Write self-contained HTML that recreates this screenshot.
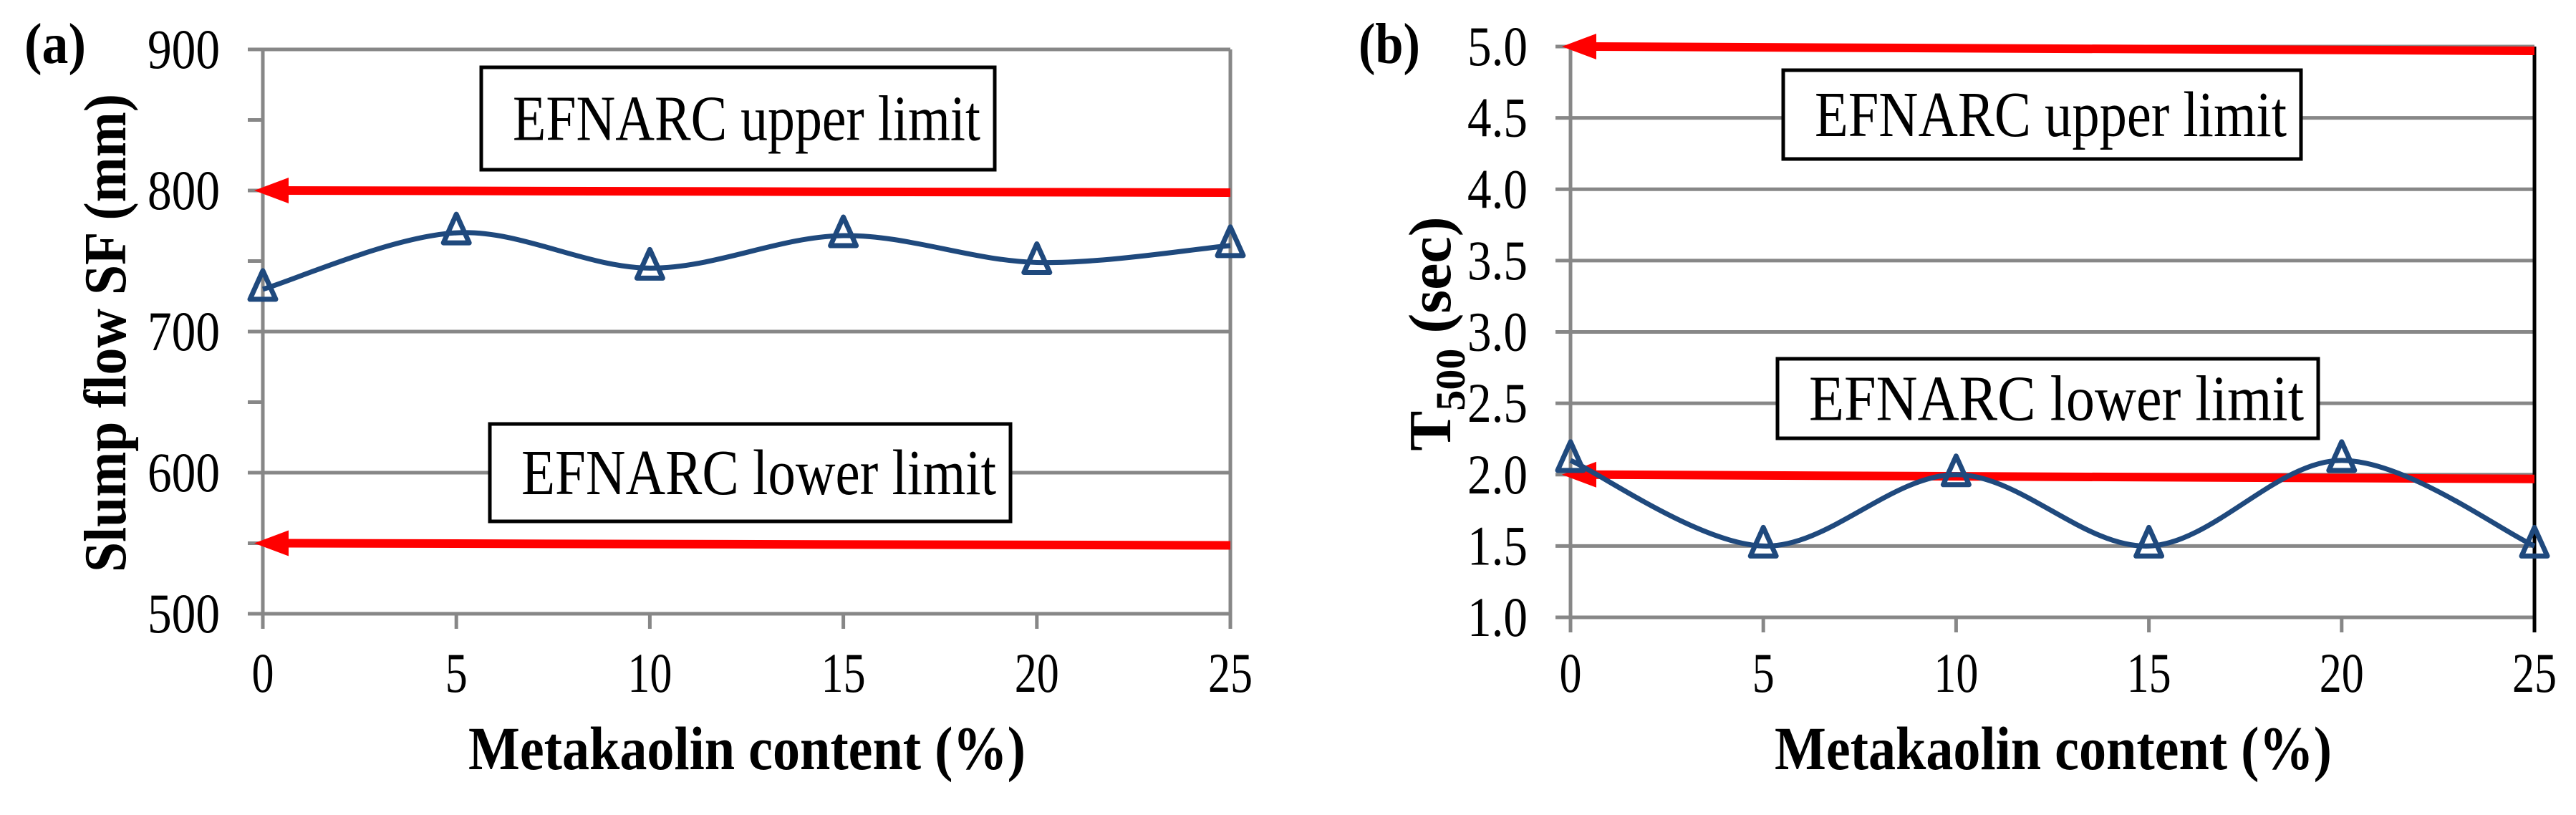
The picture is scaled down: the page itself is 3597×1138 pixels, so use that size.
<!DOCTYPE html>
<html><head><meta charset="utf-8"><style>
html,body{margin:0;padding:0;background:#fff;}
svg{display:block;}
text{font-family:"Liberation Serif","Times New Roman",serif;fill:#000;}
</style></head><body>
<svg id="fig" width="3597" height="1138" viewBox="0 0 3597 1138" xmlns="http://www.w3.org/2000/svg">
<g id="pa"></g>
<g id="pb"></g>
</svg>
<script>
const xCats = [0, 5, 10, 15, 20, 25];
const slumpFlow = [730, 770, 745, 768, 749, 761];
const t500 = [2.1, 1.5, 2.0, 1.5, 2.1, 1.5];
const aTicks = [500, 600, 700, 800, 900];
const aMinor = [550, 650, 750, 850];
const bTicks = [1.0, 1.5, 2.0, 2.5, 3.0, 3.5, 4.0, 4.5, 5.0];
const aLimits = [800, 550];
const bLimits = [5.0, 2.0];

const NS = "http://www.w3.org/2000/svg";
function mk(parent, tag, attrs, txt) {
  const e = document.createElementNS(NS, tag);
  for (const k in attrs) e.setAttribute(k, attrs[k]);
  if (txt !== undefined) e.textContent = txt;
  parent.appendChild(e);
  return e;
}
function smoothPath(pts) {
  let d = "M" + pts[0][0] + "," + pts[0][1];
  for (let i = 0; i < pts.length - 1; i++) {
    const p0 = pts[i - 1] || pts[i], p1 = pts[i], p2 = pts[i + 1], p3 = pts[i + 2] || pts[i + 1];
    const c1 = [p1[0] + (p2[0] - p0[0]) / 6, p1[1] + (p2[1] - p0[1]) / 6];
    const c2 = [p2[0] - (p3[0] - p1[0]) / 6, p2[1] - (p3[1] - p1[1]) / 6];
    d += " C" + c1 + " " + c2 + " " + p2;
  }
  return d;
}

function panel(g, cfg) {
  const X = v => cfg.x0 + (v - xCats[0]) / (xCats[xCats.length - 1] - xCats[0]) * (cfg.x1 - cfg.x0);
  const Y = v => cfg.yb + (v - cfg.ymin) / (cfg.ymax - cfg.ymin) * (cfg.yt - cfg.yb);
  const grid = "#878787";
  cfg.ticks.forEach(t => {
    const l = mk(g, "line", {x1: cfg.x0 - 21, x2: cfg.x1, y1: Y(t), y2: Y(t), stroke: grid, "stroke-width": 5});
    
    
    const s = cfg.fmt(t);
    const tx = mk(g, "text", {x: cfg.labelRight, y: Y(t) + 26, "font-size": 78, "text-anchor": "end", textLength: cfg.labelW, lengthAdjust: "spacingAndGlyphs"}, s);
    
    
  });
  (cfg.minor || []).forEach(t => {
    const l = mk(g, "line", {x1: cfg.x0 - 21, x2: cfg.x0, y1: Y(t), y2: Y(t), stroke: grid, "stroke-width": 5});
    
    
  });
  const ya = mk(g, "line", {x1: cfg.x0, x2: cfg.x0, y1: cfg.yt, y2: cfg.yb + 21, stroke: grid, "stroke-width": 5});
  
  
  xCats.forEach(c => {
    const l = mk(g, "line", {x1: X(c), x2: X(c), y1: cfg.yb, y2: cfg.yb + 21, stroke: grid, "stroke-width": 5});
    
    
    const s = String(c);
    const t = mk(g, "text", {x: X(c), y: 966, "font-size": 78, "text-anchor": "middle", textLength: s.length * 31, lengthAdjust: "spacingAndGlyphs"}, s);
    
    
  });
  const ra = mk(g, "line", {x1: cfg.x1, x2: cfg.x1, y1: cfg.yt, y2: cfg.yb + 21, stroke: cfg.rightColor, "stroke-width": 5});
  
  
  cfg.boxes.forEach(b => {
    const r = mk(g, "rect", {x: b[0], y: b[1], width: b[2], height: b[3], fill: "#fff", stroke: "#000", "stroke-width": 5});
    
    
    const t = mk(g, "text", {x: b[0] + b[2] / 2 + 12, y: b[1] + b[3] / 2 + 30, "font-size": 90, "text-anchor": "middle", textLength: b[2] - 64, lengthAdjust: "spacingAndGlyphs"}, b[4]);
    
    
  });
  cfg.limits.forEach((v, i) => {
    const y = Y(v), tip = cfg.x0 - 12;
    const l = mk(g, "line", {x1: tip + 40, x2: cfg.x1, y1: y, y2: y + cfg.slope, stroke: "#ff0000", "stroke-width": 12});
    
    
    const h = mk(g, "polygon", {points: tip + "," + y + " " + (tip + 48) + "," + (y - 18) + " " + (tip + 48) + "," + (y + 18), fill: "#ff0000"});
    
    
  });
  const pts = xCats.map((c, i) => [X(c), Y(cfg.data[i])]);
  const p = mk(g, "path", {d: smoothPath(pts), fill: "none", stroke: "#1f497d", "stroke-width": 7});
  
  
  pts.forEach(q => {
    const m = mk(g, "polygon", {points: q[0] + "," + (q[1] - 26) + " " + (q[0] - 18) + "," + (q[1] + 14) + " " + (q[0] + 18) + "," + (q[1] + 14), fill: "none", stroke: "#1f497d", "stroke-width": 7, "stroke-linejoin": "round"});
    
    
  });
  const xt = mk(g, "text", {x: cfg.xTitleX, y: 1074, "font-size": 86, "font-weight": "bold", "text-anchor": "middle", textLength: 778, lengthAdjust: "spacingAndGlyphs"}, "Metakaolin content (%)");
  
  
  const pl = mk(g, "text", {x: cfg.plX, y: 88, "font-size": 80, "font-weight": "bold", textLength: 86, lengthAdjust: "spacingAndGlyphs"}, cfg.panelLabel);
  
  
}

const pa = document.getElementById("pa");
panel(pa, {x0: 367, x1: 1718, yb: 857, yt: 69, ymin: 500, ymax: 900, ticks: aTicks, minor: aMinor,
  fmt: v => String(v), labelRight: 307, labelW: 101, data: slumpFlow, limits: aLimits, slope: 3, rightColor: "#878787",
  boxes: [[672, 94, 717, 143, "EFNARC upper limit", "upper-limit"], [684, 592, 727, 136, "EFNARC lower limit", "lower-limit"]],
  xTitleX: 1043, plX: 34, panelLabel: "(a)"});
const yta = mk(pa, "text", {x: 0, y: 0, "font-size": 84, "font-weight": "bold", "text-anchor": "middle", transform: "translate(175,465) rotate(-90)", textLength: 668, lengthAdjust: "spacingAndGlyphs"}, "Slump flow SF (mm)");



const pb = document.getElementById("pb");
panel(pb, {x0: 2193, x1: 3539, yb: 862, yt: 65, ymin: 1.0, ymax: 5.0, ticks: bTicks,
  fmt: v => v.toFixed(1), labelRight: 2133, labelW: 84, data: t500, limits: bLimits, slope: 6, rightColor: "#000",
  boxes: [[2490, 98, 723, 124, "EFNARC upper limit", "upper-limit"], [2482, 501, 755, 111, "EFNARC lower limit", "lower-limit"]],
  xTitleX: 2867, plX: 1897, panelLabel: "(b)"});
const ytb = mk(pb, "text", {x: 0, y: 0, "font-size": 84, "font-weight": "bold", "text-anchor": "middle", transform: "translate(2025,466) rotate(-90)"});


mk(ytb, "tspan", {}, "T");
mk(ytb, "tspan", {"font-size": 58, dy: 20}, "500");
mk(ytb, "tspan", {dy: -20}, " (sec)");
</script>
</body></html>
